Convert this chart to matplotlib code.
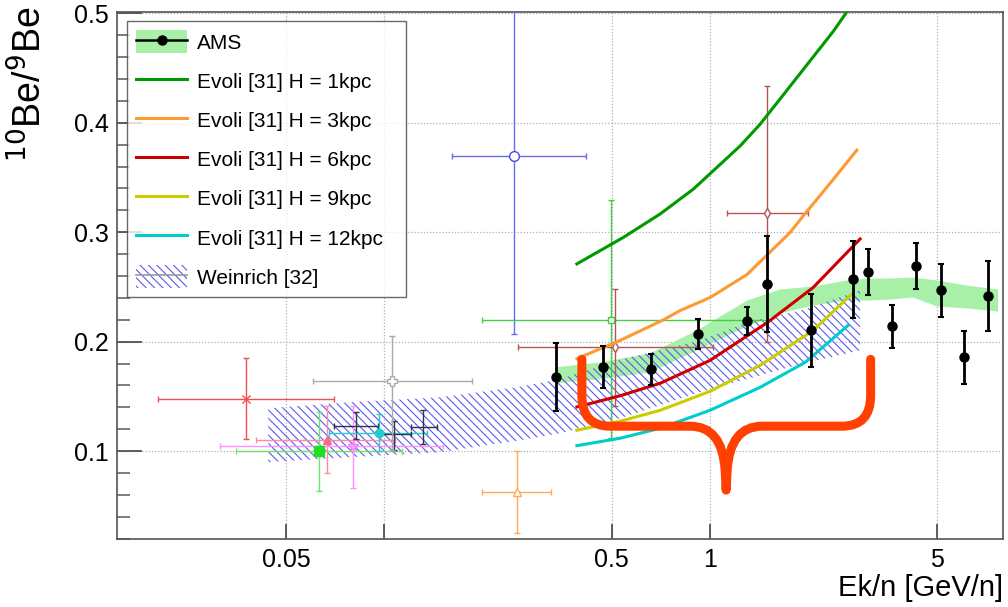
import numpy as np
import matplotlib
matplotlib.use("Agg")
import matplotlib.pyplot as plt
from matplotlib.patches import Patch, PathPatch
from matplotlib.lines import Line2D
from matplotlib.path import Path
from matplotlib.ticker import FixedLocator, MultipleLocator, NullFormatter, NullLocator

plt.rcParams['font.family'] = ['Liberation Sans', 'DejaVu Sans']
plt.rcParams['hatch.linewidth'] = 0.8

# ---------------- data ----------------
# AMS 10Be/9Be
ams_x = [0.3375, 0.4716, 0.661, 0.919, 1.30, 1.504, 2.045, 2.757, 3.06, 3.64, 4.30, 5.13, 6.06, 7.18]
ams_y = [0.1677, 0.1768, 0.1747, 0.2069, 0.2188, 0.2529, 0.2103, 0.2571, 0.2638, 0.2139, 0.2693, 0.2468, 0.1857, 0.2419]
ams_err = [0.031, 0.019, 0.014, 0.014, 0.013, 0.044, 0.033, 0.035, 0.021, 0.020, 0.021, 0.024, 0.024, 0.032]

# AMS band
band_x = [0.3375, 0.4607, 0.6562, 0.9147, 1.303, 1.645, 2.078, 2.642, 3.044, 3.582, 4.215, 4.993, 6.17, 7.685]
band_hi = [0.1766, 0.1811, 0.1893, 0.2103, 0.2376, 0.2477, 0.2504, 0.2559, 0.2577, 0.2577, 0.2586, 0.2559, 0.2513, 0.2477]
band_lo = [0.1620, 0.1656, 0.1720, 0.1921, 0.2139, 0.2258, 0.2331, 0.2376, 0.2376, 0.2385, 0.2404, 0.2322, 0.2304, 0.2276]

# Weinrich [32] band
wein_x = [0.04403, 0.0786, 0.1486, 0.2617, 0.3471, 0.5306, 0.9344, 1.331, 1.895, 2.897]
wein_hi = [0.1392, 0.1447, 0.1492, 0.1590, 0.1658, 0.1835, 0.2012, 0.2185, 0.2285, 0.2468]
wein_lo = [0.0900, 0.0945, 0.0991, 0.1100, 0.1164, 0.1301, 0.1539, 0.1666, 0.1794, 0.1921]

# Evoli [31] model curves
evoli1_x = [0.3907, 0.5433, 0.704, 0.891, 1.240, 1.428, 1.851, 2.399, 2.618, 2.86]
evoli1_y = [0.2711, 0.2954, 0.3167, 0.3395, 0.3789, 0.3987, 0.4412, 0.4838, 0.5000, 0.517]
evoli3_x = [0.3907, 0.5306, 0.7209, 0.8112, 1.003, 1.303, 1.766, 1.963, 2.376, 2.83]
evoli3_y = [0.1845, 0.2012, 0.2200, 0.2285, 0.2404, 0.2615, 0.2999, 0.3170, 0.3470, 0.3750]
evoli6_x = [0.3907, 0.5306, 0.704, 1.003, 1.504, 2.078, 2.897]
evoli6_y = [0.1404, 0.1506, 0.1620, 0.1830, 0.2176, 0.2495, 0.2939]
evoli9_x = [0.3907, 0.5306, 0.704, 1.003, 1.428, 2.078, 2.699]
evoli9_y = [0.1191, 0.1273, 0.1373, 0.1547, 0.1784, 0.2103, 0.2422]
evoli12_x = [0.3907, 0.5306, 0.704, 1.003, 1.428, 1.963, 2.661]
evoli12_y = [0.1050, 0.1118, 0.1209, 0.1374, 0.1583, 0.1811, 0.2149]

# other measurements: x, xlo, xhi, y, ylo, yhi
red_pt = [0.03757, 0.02017, 0.06987, 0.1474, 0.1109, 0.1848]
green_sq = [0.06317, 0.0351, 0.1136, 0.1000, 0.0638, 0.1358]
pink_tri = [0.06651, 0.04036, 0.1081, 0.1098, 0.0797, 0.1413]
mag_star = [0.08045, 0.0312, 0.1512, 0.1046, 0.0660, 0.1413]
dark1 = [0.08162, 0.06987, 0.09565, 0.1234, 0.1107, 0.1358]
cyan_pt = [0.09605, 0.06779, 0.1352, 0.1170, 0.1000, 0.1344]
dark2 = [0.1068, 0.09605, 0.1208, 0.1155, 0.1009, 0.1276]
dark3 = [0.1320, 0.1208, 0.1451, 0.1222, 0.1061, 0.1380]
gray_pt = [0.1056, 0.06022, 0.1859, 0.1641, 0.1010, 0.2048]
blue_pt = [0.2502, 0.1614, 0.4164, 0.3698, 0.2073, 0.5320]
green_open = [0.4979, 0.1995, 1.504, 0.2201, 0.1118, 0.3294]
brown1 = [0.5122, 0.2567, 1.026, 0.1951, 0.1410, 0.2483]
brown2 = [1.504, 1.128, 2.010, 0.3172, 0.1996, 0.4339]
orange_tri = [0.2549, 0.1995, 0.3242, 0.0626, 0.0250, 0.1003]

# brace annotation (data coordinates)
brace_x = [0.4047, 0.4047, 0.4047, 0.4943, 0.8706, 1.092, 1.115, 1.123, 1.131, 1.155, 1.449, 2.551, 3.121, 3.121, 3.121]
brace_y = [0.1839, 0.1510, 0.1228, 0.1228, 0.1228, 0.1228, 0.0827, 0.0644, 0.0827, 0.1228, 0.1228, 0.1228, 0.1228, 0.1510, 0.1839]

x_ticks = [0.05, 0.1, 0.5, 1, 5]
x_ticklabels = ['0.05', '', '0.5', '1', '5']
y_ticks = [0.1, 0.2, 0.3, 0.4, 0.5]

# ---------------- figure ----------------
fig = plt.figure(figsize=(10.08, 6.07), dpi=100)
ax = fig.add_axes([117/1008, 1-538.7/607, (1003-117)/1008, (538.7-12.3)/607])
ax.set_xscale('log')
ax.set_xlim(0.0151, 7.96)
ax.set_ylim(0.02, 0.501)

# grid
for xv in x_ticks:
    ax.axvline(xv, color='#b0b0b0', lw=0.9, ls=(0, (1, 1.5)), zorder=0)
for yv in y_ticks:
    ax.axhline(yv, color='#b0b0b0', lw=0.9, ls=(0, (1, 1.5)), zorder=0)

# AMS band
ax.fill_between(band_x, band_lo, band_hi, facecolor='#a8f0a8', edgecolor='none', zorder=1)
# Weinrich hatched band
ax.fill_between(wein_x, wein_lo, wein_hi, facecolor='none', edgecolor='#5a5af0',
                hatch='\\\\\\\\', linewidth=0, zorder=2)

# other measurements
def pt(d, color, marker, ms, mfc=None, ecolor=None, zo=4):
    x, xlo, xhi, y, ylo, yhi = d
    ax.errorbar([x], [y], xerr=[[x - xlo], [xhi - x]], yerr=[[y - ylo], [yhi - y]],
                fmt=marker, color=color, ecolor=ecolor or color, ms=ms,
                mfc=mfc if mfc is not None else color, mec=color, mew=1.0,
                elinewidth=1.0, capsize=2, capthick=1.0, zorder=zo)

pt(red_pt, '#f05050', 'x', 6)
pt(green_sq, '#22dd22', 's', 7, ecolor='#66e866')
pt(pink_tri, '#ff6688', '^', 6, ecolor='#ff8aa2')
pt(mag_star, '#ff70ff', '*', 7, mfc='none', ecolor='#ff90ff')
pt(dark1, '#333344', 'none', 0)
pt(cyan_pt, '#22cccc', 'o', 6)
pt(dark2, '#333344', 'none', 0)
pt(dark3, '#333344', 'none', 0)
pt(gray_pt, '#aaaaaa', 'P', 7, mfc='white')
pt(blue_pt, '#4848ee', 'o', 7, mfc='white', ecolor='#6a6af0')
pt(green_open, '#44cc44', 's', 5, mfc='white')
pt(brown1, '#b35555', 'd', 5, mfc='white')
pt(brown2, '#b35555', 'd', 5, mfc='white')
pt(orange_tri, '#ffaa55', '^', 6, mfc='white')

# Evoli curves
ax.plot(evoli1_x, evoli1_y, color='#009900', lw=2.2, zorder=5, solid_joinstyle='round')
ax.plot(evoli3_x, evoli3_y, color='#ff9933', lw=2.2, zorder=5, solid_joinstyle='round')
ax.plot(evoli6_x, evoli6_y, color='#cc0000', lw=2.2, zorder=5, solid_joinstyle='round')
ax.plot(evoli9_x, evoli9_y, color='#cccc00', lw=2.2, zorder=5, solid_joinstyle='round')
ax.plot(evoli12_x, evoli12_y, color='#00cccc', lw=2.2, zorder=5, solid_joinstyle='round')

# AMS points
ax.errorbar(ams_x, ams_y, yerr=ams_err, fmt='o', color='black', ms=6.5,
            elinewidth=2.0, capsize=2, capthick=1.5, zorder=6)

# brace
codes = [Path.MOVETO, Path.LINETO, Path.CURVE3, Path.CURVE3, Path.LINETO,
         Path.CURVE3, Path.CURVE3, Path.LINETO, Path.LINETO, Path.CURVE3, Path.CURVE3,
         Path.LINETO, Path.CURVE3, Path.CURVE3, Path.LINETO]
brace = PathPatch(Path(np.column_stack([brace_x, brace_y]), codes), facecolor='none',
                  edgecolor='#ff4000', lw=6.5, capstyle='round', joinstyle='round', zorder=7)
ax.add_patch(brace)

# axes styling
for s in ax.spines.values():
    s.set_color('#555555')
    s.set_linewidth(1.2)
ax.xaxis.set_major_locator(FixedLocator(x_ticks))
ax.set_xticklabels(x_ticklabels)
ax.xaxis.set_minor_locator(NullLocator())
ax.xaxis.set_minor_formatter(NullFormatter())
ax.yaxis.set_major_locator(FixedLocator(y_ticks))
ax.yaxis.set_minor_locator(MultipleLocator(0.02))
ax.set_yticklabels(['0.1', '0.2', '0.3', '0.4', '0.5'])
ax.tick_params(axis='both', which='major', direction='in', labelsize=18, color='#444444', width=1.2)
ax.tick_params(axis='y', which='major', length=18, pad=6)
ax.tick_params(axis='y', which='minor', direction='in', length=9, color='#666666', width=1.2)
ax.tick_params(axis='x', which='major', length=11, pad=7)

fig.text(1003/1008, 1-588/607, 'Ek/n [GeV/n]', ha='right', va='center', fontsize=21)
fig.text(30/1008, 1-7/607, r'$^{10}$Be/$^{9}$Be', ha='center', va='top', rotation=90, fontsize=27)

# legend
h_ams = (Patch(facecolor='#a8f0a8', edgecolor='none'),
         Line2D([], [], color='black', marker='o', ms=6.5, lw=1.8))
h_wein = (Patch(facecolor='none', edgecolor='#5a5af0', hatch='\\\\\\\\', lw=0),
          Line2D([], [], color='#999999', lw=1.2))
handles = [h_ams,
           Line2D([], [], color='#009900', lw=2.2),
           Line2D([], [], color='#ff9933', lw=2.2),
           Line2D([], [], color='#cc0000', lw=2.2),
           Line2D([], [], color='#cccc00', lw=2.2),
           Line2D([], [], color='#00cccc', lw=2.2),
           h_wein]
labels = ['AMS', 'Evoli [31] H = 1kpc', 'Evoli [31] H = 3kpc', 'Evoli [31] H = 6kpc',
          'Evoli [31] H = 9kpc', 'Evoli [31] H = 12kpc', 'Weinrich [32]']
leg = ax.legend(handles, labels, loc='upper left',
                bbox_to_anchor=(10/886, 0.4592, 279/886, 0.5243), mode='expand',
                fontsize=15, frameon=True, fancybox=False, edgecolor='#444444',
                handlelength=2.45, handleheight=1.3, labelspacing=0.79, borderpad=0.45,
                handletextpad=0.45, borderaxespad=0)
leg.get_frame().set_linewidth(1.0)
leg.set_zorder(10)

fig.savefig('out.png', dpi=100)
